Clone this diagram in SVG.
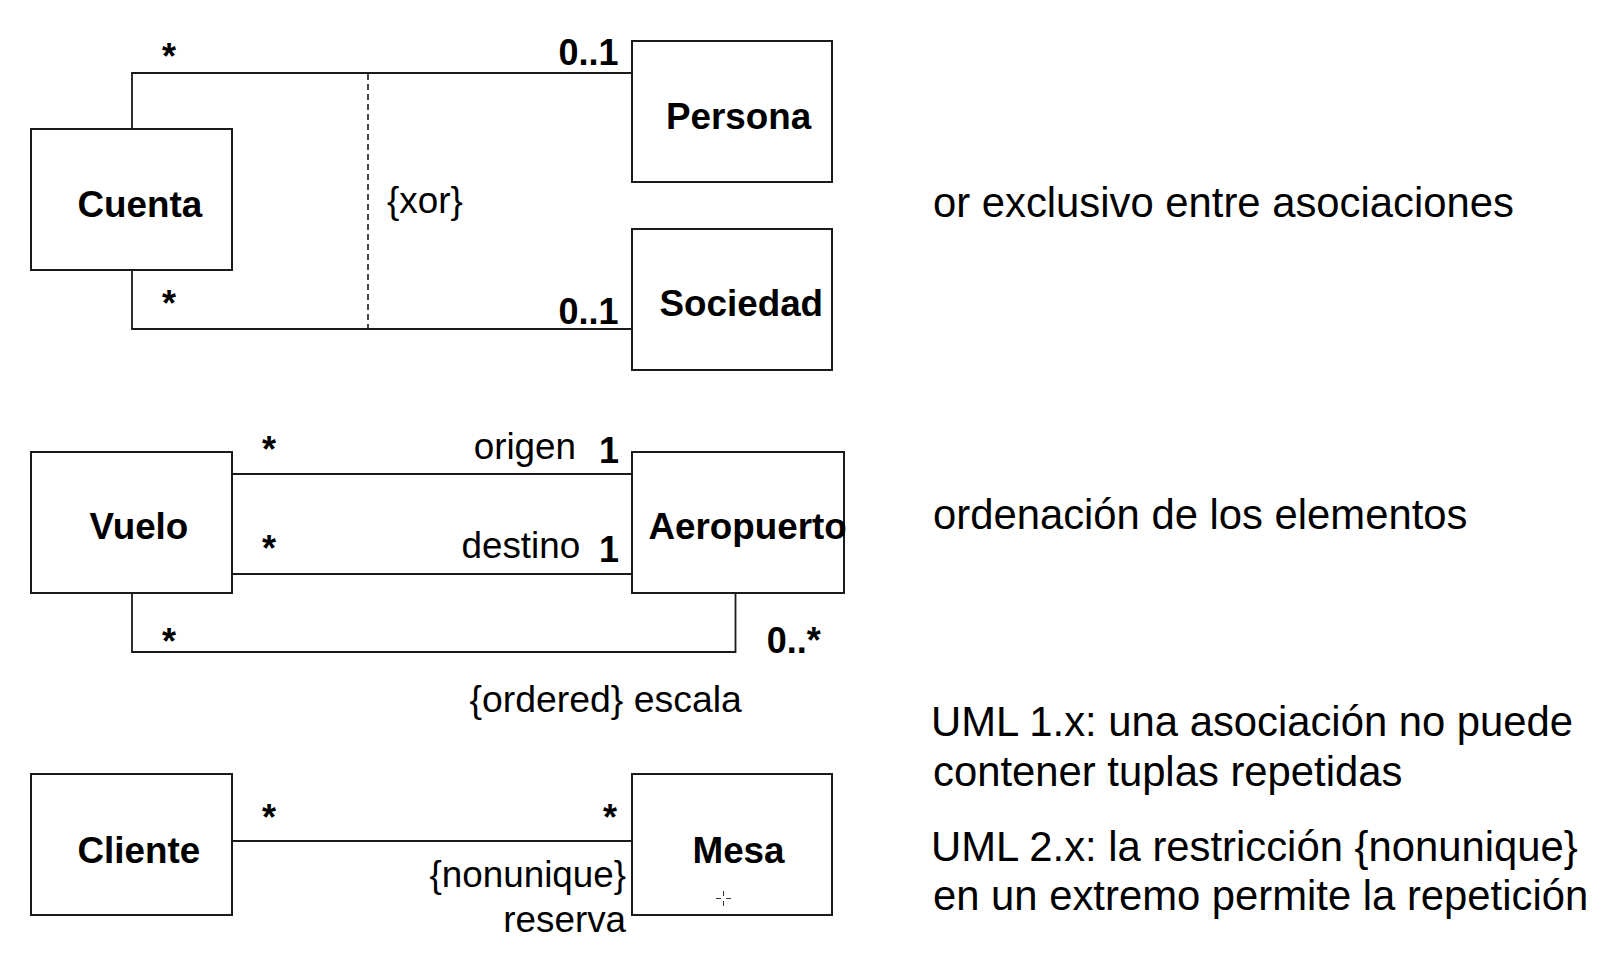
<svg xmlns="http://www.w3.org/2000/svg" width="1621" height="958" viewBox="0 0 1621 958">
  <style>
    .box { fill: #ffffff; stroke: #1a1a1a; stroke-width: 2; }
    .ln { fill: none; stroke: #1a1a1a; stroke-width: 1.8; }
    .dash { fill: none; stroke: #1a1a1a; stroke-width: 1.6; stroke-dasharray: 6 4; }
    .name { font-family: "Liberation Sans", Arial, sans-serif; font-weight: bold; font-size: 36.8px; fill: #000; }
    .mult { font-family: "Liberation Sans", Arial, sans-serif; font-weight: bold; font-size: 36px; fill: #000; }
    .lbl { font-family: "Liberation Sans", Arial, sans-serif; font-size: 36.8px; fill: #000; }
    .note { font-family: "Liberation Sans", Arial, sans-serif; font-size: 41.8px; fill: #000; }
  </style>
  <rect width="1621" height="958" fill="#ffffff"/>

  <g id="connectors">
    <path class="ln" d="M132,129 V73 H632"/>
    <path class="ln" d="M132,270 V329 H632"/>
    <path class="dash" d="M368,74 V329"/>
    <path class="ln" d="M232,474 H632"/>
    <path class="ln" d="M232,574 H632"/>
    <path class="ln" d="M132,593 V652 H735.5 V593"/>
    <path class="ln" d="M232,841 H632"/>
  </g>

  <g id="node-cuenta">
    <rect class="box" x="31" y="129" width="201" height="141"/>
    <text class="name" x="77.5" y="217">Cuenta</text>
  </g>
  <g id="node-persona">
    <rect class="box" x="632" y="41" width="200" height="141"/>
    <text class="name" x="666" y="128.5">Persona</text>
  </g>
  <g id="node-sociedad">
    <rect class="box" x="632" y="229" width="200" height="141"/>
    <text class="name" x="659.5" y="316">Sociedad</text>
  </g>
  <g id="node-vuelo">
    <rect class="box" x="31" y="452" width="201" height="141"/>
    <text class="name" x="89.5" y="539">Vuelo</text>
  </g>
  <g id="node-aeropuerto">
    <rect class="box" x="632" y="452" width="212" height="141"/>
    <text class="name" x="648.5" y="538.5">Aeropuerto</text>
  </g>
  <g id="node-cliente">
    <rect class="box" x="31" y="774" width="201" height="141"/>
    <text class="name" x="77.5" y="862.5">Cliente</text>
  </g>
  <g id="node-mesa">
    <rect class="box" x="632" y="774" width="200" height="141"/>
    <text class="name" x="692.5" y="862.5">Mesa</text>
  </g>

  <g id="labels">
    <text class="mult" x="162" y="69">*</text>
    <text class="mult" x="162" y="315.5">*</text>
    <text class="mult" x="558.5" y="65">0..1</text>
    <text class="mult" x="558.5" y="324">0..1</text>
    <text class="lbl" x="387" y="213">{xor}</text>

    <text class="mult" x="262" y="462">*</text>
    <text class="mult" x="262" y="561">*</text>
    <text class="lbl" x="626" y="458.5" text-anchor="end" dx="-50">origen</text>
    <text class="lbl" x="461.5" y="557.5">destino</text>
    <text class="mult" x="599" y="462.5">1</text>
    <text class="mult" x="599" y="561.5">1</text>
    <text class="mult" x="162" y="654">*</text>
    <text class="mult" x="766.8" y="653.3">0..*</text>
    <text class="lbl" x="469.5" y="711.5" style="font-size:37.4px">{ordered} escala</text>

    <text class="mult" x="262" y="830">*</text>
    <text class="mult" x="603" y="830">*</text>
    <text class="lbl" x="626" y="886.5" text-anchor="end">{nonunique}</text>
    <text class="lbl" x="626" y="931.5" text-anchor="end">reserva</text>
  </g>

  <g id="cursor" stroke="#333" stroke-width="1">
    <path d="M716,898.5 H721 M726,898.5 H731 M723.5,891 V896 M723.5,901 V906"/>
  </g>

  <g id="notes">
    <text class="note" x="933" y="217">or exclusivo entre asociaciones</text>
    <text class="note" x="933" y="529">ordenación de los elementos</text>
    <text class="note" x="931" y="736">UML 1.x: una asociación no puede</text>
    <text class="note" x="933" y="786">contener tuplas repetidas</text>
    <text class="note" x="931" y="861">UML 2.x: la restricción {nonunique}</text>
    <text class="note" x="933" y="910">en un extremo permite la repetición</text>
  </g>
</svg>
